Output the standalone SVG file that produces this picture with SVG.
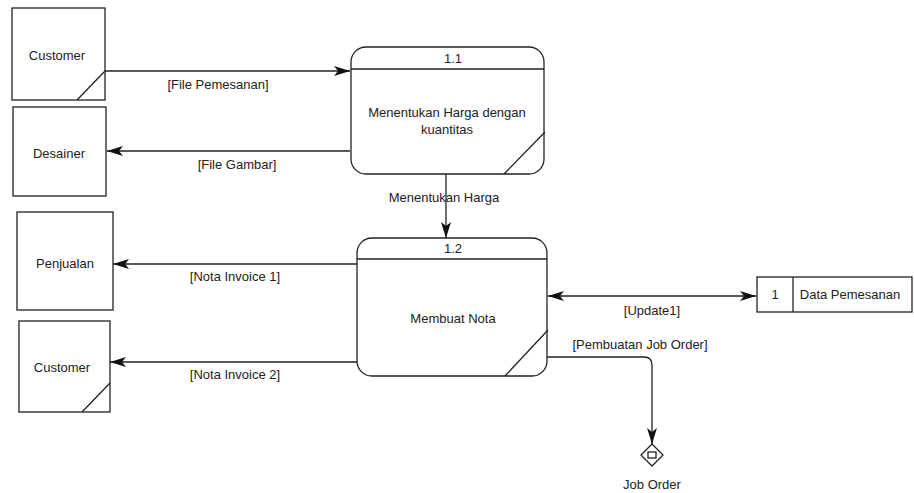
<svg xmlns="http://www.w3.org/2000/svg" width="914" height="493" viewBox="0 0 914 493">
  <style>
    .box { fill: #fff; stroke: #222; stroke-width: 1.3; }
    .ln { fill: none; stroke: #222; stroke-width: 1.3; }
    .t { font-family: "Liberation Sans", Arial, sans-serif; font-size: 13px; fill: #222; text-anchor: middle; }
  </style>
  <defs>
    <marker id="arr" viewBox="0 0 16 10" refX="16" refY="5" markerWidth="16" markerHeight="10" markerUnits="userSpaceOnUse" orient="auto-start-reverse">
      <path d="M0,0 L16,5 L0,10 L4,5 Z" fill="#111"/>
    </marker>
  </defs>

  <rect width="914" height="493" fill="#fff"/>

  <!-- external entities -->
  <g id="customer1">
    <rect class="box" x="12" y="8" width="93" height="92"/>
    <line class="ln" x1="105" y1="71" x2="77" y2="100"/>
    <text class="t" x="57" y="60">Customer</text>
  </g>
  <g id="desainer">
    <rect class="box" x="13" y="107" width="93" height="89"/>
    <text class="t" x="59" y="158">Desainer</text>
  </g>
  <g id="penjualan">
    <rect class="box" x="17" y="212" width="96" height="98"/>
    <text class="t" x="65" y="268">Penjualan</text>
  </g>
  <g id="customer2">
    <rect class="box" x="19" y="321" width="91" height="91"/>
    <line class="ln" x1="110" y1="383" x2="82" y2="412"/>
    <text class="t" x="62" y="372">Customer</text>
  </g>

  <!-- processes -->
  <g id="proc11">
    <rect class="box" x="351" y="47" width="193" height="127" rx="15" ry="15"/>
    <line class="ln" x1="351" y1="69" x2="544" y2="69"/>
    <line class="ln" x1="545" y1="132" x2="504" y2="174"/>
    <text class="t" x="453" y="63">1.1</text>
    <text class="t" x="447" y="117">Menentukan Harga dengan</text>
    <text class="t" x="447" y="134">kuantitas</text>
  </g>
  <g id="proc12">
    <rect class="box" x="357" y="238" width="190" height="138" rx="15" ry="15"/>
    <line class="ln" x1="357" y1="259" x2="547" y2="259"/>
    <line class="ln" x1="548" y1="330" x2="505" y2="376"/>
    <text class="t" x="453" y="253">1.2</text>
    <text class="t" x="453" y="323">Membuat Nota</text>
  </g>

  <!-- data store -->
  <g id="store1">
    <rect class="box" x="757" y="277" width="155" height="35"/>
    <line class="ln" x1="793" y1="277" x2="793" y2="312"/>
    <text class="t" x="775" y="299">1</text>
    <text class="t" x="850" y="299">Data Pemesanan</text>
  </g>

  <!-- decision node -->
  <g id="joborder">
    <path class="box" d="M652,444 L663,455 L652,466 L641,455 Z"/>
    <rect class="box" x="648" y="452" width="8" height="6" stroke-width="1"/>
    <text class="t" x="652" y="489">Job Order</text>
  </g>

  <!-- flows -->
  <g id="connectors">
    <line class="ln" x1="105" y1="71" x2="350" y2="71" marker-end="url(#arr)"/>
    <text class="t" x="218" y="89">[File Pemesanan]</text>

    <line class="ln" x1="350" y1="151" x2="107" y2="151" marker-end="url(#arr)"/>
    <text class="t" x="237" y="169">[File Gambar]</text>

    <line class="ln" x1="446" y1="174" x2="446" y2="238" marker-end="url(#arr)"/>
    <text class="t" x="444" y="202">Menentukan Harga</text>

    <line class="ln" x1="357" y1="264" x2="113" y2="264" marker-end="url(#arr)"/>
    <text class="t" x="235" y="281">[Nota Invoice 1]</text>

    <line class="ln" x1="357" y1="362" x2="110" y2="362" marker-end="url(#arr)"/>
    <text class="t" x="235" y="379">[Nota Invoice 2]</text>

    <line class="ln" x1="548" y1="296" x2="756" y2="296" marker-start="url(#arr)" marker-end="url(#arr)"/>
    <text class="t" x="652" y="315">[Update1]</text>

    <path class="ln" d="M547,357 L644,357 Q652,357 652,365 L652,444" marker-end="url(#arr)"/>
    <text class="t" x="640" y="349">[Pembuatan Job Order]</text>
  </g>
</svg>
